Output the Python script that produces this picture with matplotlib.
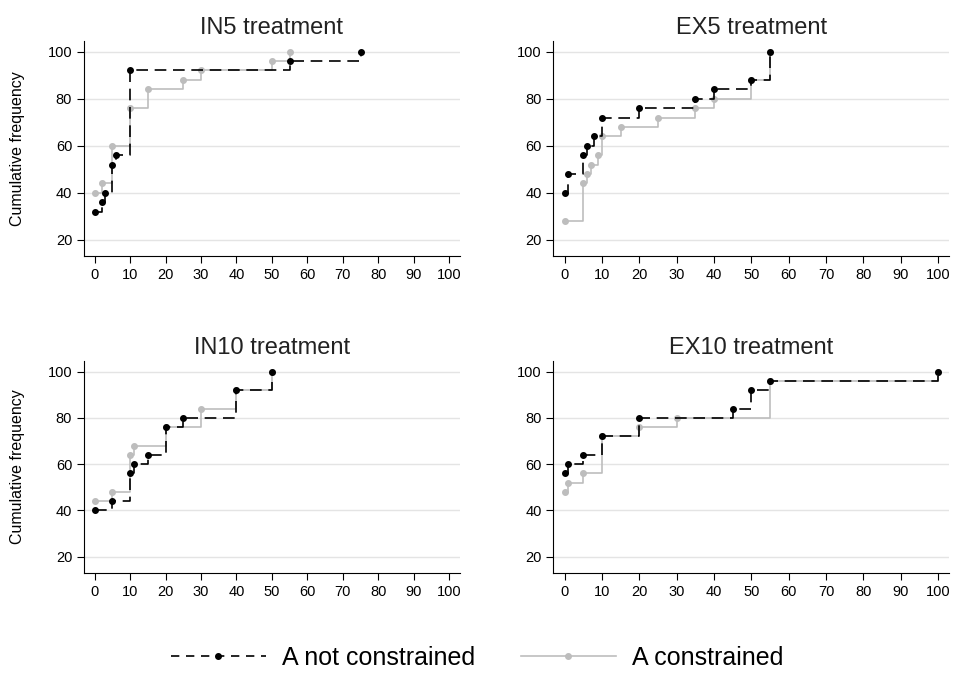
import matplotlib.pyplot as plt
from matplotlib.lines import Line2D

plt.rcParams['font.family'] = ['Liberation Sans', 'DejaVu Sans']

titles = ["IN5 treatment", "EX5 treatment", "IN10 treatment", "EX10 treatment"]

# A not constrained (black, dashed)
in5_x = [0, 2, 3, 5, 6, 10, 55, 75]
in5_y = [32, 36, 40, 52, 56, 92, 96, 100]
ex5_x = [0, 1, 5, 6, 8, 10, 20, 35, 40, 50, 55]
ex5_y = [40, 48, 56, 60, 64, 72, 76, 80, 84, 88, 100]
in10_x = [0, 5, 10, 11, 15, 20, 25, 40, 50]
in10_y = [40, 44, 56, 60, 64, 76, 80, 92, 100]
ex10_x = [0, 1, 5, 10, 20, 45, 50, 55, 100]
ex10_y = [56, 60, 64, 72, 80, 84, 92, 96, 100]

# A constrained (grey, solid)
in5c_x = [0, 2, 5, 10, 15, 25, 30, 50, 55]
in5c_y = [40, 44, 60, 76, 84, 88, 92, 96, 100]
ex5c_x = [0, 5, 6, 7, 9, 10, 15, 25, 35, 40, 50, 55]
ex5c_y = [28, 44, 48, 52, 56, 64, 68, 72, 76, 80, 88, 100]
in10c_x = [0, 5, 10, 11, 20, 30, 40, 50]
in10c_y = [44, 48, 64, 68, 76, 84, 92, 100]
ex10c_x = [0, 1, 5, 10, 20, 30, 55, 100]
ex10c_y = [48, 52, 56, 72, 76, 80, 96, 100]

black = [(in5_x, in5_y), (ex5_x, ex5_y), (in10_x, in10_y), (ex10_x, ex10_y)]
grey = [(in5c_x, in5c_y), (ex5c_x, ex5c_y), (in10c_x, in10c_y), (ex10c_x, ex10c_y)]

GREY = "#bdbdbd"

fig = plt.figure(figsize=(9.54, 6.73), dpi=100)
positions = [
    [0.088, 0.619, 0.394, 0.320],
    [0.580, 0.619, 0.415, 0.320],
    [0.088, 0.149, 0.394, 0.314],
    [0.580, 0.149, 0.415, 0.314],
]

for i, pos in enumerate(positions):
    ax = fig.add_axes(pos)
    gx, gy = grey[i]
    bx, by = black[i]
    ax.plot(gx, gy, drawstyle="steps-post", color=GREY, lw=1.2,
            marker="o", ms=4, mfc=GREY, mec=GREY, zorder=3)
    ax.plot(bx, by, drawstyle="steps-post", color="black", lw=1.2,
            dashes=(7, 4), marker="o", ms=4, zorder=4)
    ax.set_xlim(-3, 103)
    ax.set_ylim(13, 104.5)
    ax.set_xticks(range(0, 101, 10))
    ax.set_yticks(range(20, 101, 20))
    ax.grid(axis="y", color="#e4e4e4", lw=1)
    ax.set_axisbelow(True)
    for s in ["top", "right"]:
        ax.spines[s].set_visible(False)
    ax.tick_params(labelsize=10.5, length=5, direction="out")
    ax.set_title(titles[i], fontsize=17, pad=5, color="#222222")
    if i % 2 == 0:
        ax.set_ylabel("Cumulative frequency", fontsize=11.5)
        ax.yaxis.set_label_coords(-0.158, 0.5)

handles = [
    Line2D([], [], color="black", lw=1.2, dashes=(5, 4), marker="o", ms=4),
    Line2D([], [], color=GREY, lw=1.2, marker="o", ms=4),
]
fig.legend(handles, ["A not constrained", "A constrained"], loc="center",
           bbox_to_anchor=(0.5, 0.022), ncol=2, frameon=False, fontsize=18,
           handlelength=3.8, handletextpad=0.64, columnspacing=1.84)

fig.savefig("out.png", dpi=100)
